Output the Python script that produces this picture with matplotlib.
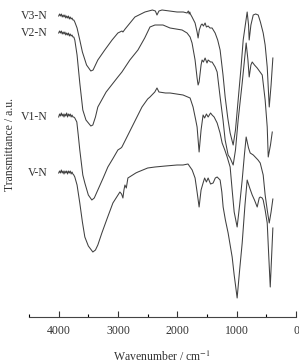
import matplotlib
matplotlib.use("Agg")
import matplotlib.pyplot as plt
from matplotlib.ticker import MultipleLocator

plt.rcParams['font.family'] = ['Liberation Serif', 'DejaVu Serif']
plt.rcParams['mathtext.fontset'] = 'stix'

# ---- data (wavenumber cm-1, transmittance a.u. with vertical offsets) ----
v3_wn = [4000, 3985, 3970, 3955, 3940, 3925, 3910, 3895, 3880, 3865, 3850, 3835, 3820, 3805, 3790,
         3775, 3760, 3745, 3728, 3690, 3644, 3600, 3530, 3458,
         3420, 3340, 3223, 3100, 3002, 2934, 2917, 2880, 2715, 2546, 2420, 2370, 2343, 2310, 2258,
         2005, 1900, 1836, 1815, 1800, 1790, 1780, 1752, 1701, 1667, 1650, 1630, 1600, 1583, 1560, 1532, 1510,
         1481, 1450, 1414, 1363, 1320, 1279, 1230, 1194, 1150, 1110, 1059, 1020, 975, 930, 890,
         823, 800, 789, 760, 721, 680, 637, 600, 553, 520, 485, 451, 420, 390]
v3_t = [301, 303, 301, 303, 300, 302, 300, 302, 299, 301, 299, 301, 298, 300, 298,
        299, 297, 297, 295, 289, 277, 265, 252, 246,
        247, 257, 267, 277, 284, 286, 285, 288, 300, 305, 307, 306, 302, 306, 307,
        305, 305, 304, 306, 303, 305, 303, 300, 294, 285, 279, 287, 292, 293, 291, 294, 290,
        291, 289, 289, 284, 277, 267, 242, 220, 199, 184, 172, 187, 217, 247, 277,
        305, 292, 277, 292, 302, 303, 302, 295, 284, 272, 250, 210, 232, 259]

v2_wn = [4000, 3985, 3970, 3955, 3940, 3925, 3910, 3895, 3880, 3865, 3850, 3835, 3820, 3805, 3790,
         3775, 3760, 3745, 3728, 3690, 3644, 3593, 3540, 3458, 3424,
         3380, 3340, 3200, 3002, 2934, 2800, 2664, 2550, 2461, 2377, 2242, 2123, 1920, 1836, 1785,
         1752, 1701, 1667, 1650, 1633, 1600, 1583, 1560, 1532, 1500, 1481, 1440, 1414, 1363, 1329,
         1279, 1230, 1194, 1144, 1110, 1059, 1020, 975, 907, 860, 840, 810, 789, 760, 738,
         700, 654, 569, 520, 485, 468, 430, 400]
v2_t = [284, 286, 284, 286, 283, 285, 283, 285, 282, 284, 282, 284, 281, 283, 281,
        282, 280, 280, 277, 262, 234, 207, 197, 191, 192,
        200, 210, 225, 240, 245, 257, 267, 279, 290, 292, 292, 289, 287, 284, 280,
        274, 257, 239, 232, 235, 252, 257, 255, 259, 254, 257, 255, 255, 250, 245,
        220, 197, 177, 162, 159, 152, 167, 197, 234, 262, 274, 257, 240, 252, 255,
        252, 249, 242, 217, 190, 160, 172, 185]

v1_wn = [4000, 3985, 3970, 3955, 3940, 3925, 3910, 3895, 3880, 3865, 3850, 3835, 3820, 3805, 3790,
         3775, 3760, 3745, 3728, 3694, 3670, 3644, 3593, 3559, 3500,
         3441, 3400, 3340, 3250, 3171, 3080, 3002, 2950, 2934, 2900, 2765, 2596, 2500, 2461, 2380,
         2343, 2310, 2200, 2123, 1904, 1785, 1735, 1690, 1667, 1633, 1600, 1566, 1540, 1510, 1481,
         1440, 1414, 1380, 1329, 1280, 1245, 1200, 1160, 1110, 1076, 1042, 992, 950, 907, 870,
         840, 800, 772, 720, 688, 640, 603, 553, 520, 485, 451, 420, 390]
v1_t = [200, 203, 201, 204, 201, 203, 200, 203, 201, 204, 200, 203, 201, 203, 200,
        202, 200, 200, 199, 195, 182, 167, 142, 134, 122,
        117, 119, 127, 139, 150, 159, 167, 169, 170, 174, 190, 210, 218, 220, 225,
        229, 225, 224, 224, 222, 219, 210, 197, 190, 165, 187, 202, 199, 203, 200,
        204, 202, 200, 194, 184, 174, 167, 160, 150, 127, 105, 90, 112, 137, 162,
        180, 169, 164, 162, 160, 157, 154, 142, 122, 107, 94, 105, 118]

v_wn = [4000, 3985, 3970, 3955, 3940, 3925, 3910, 3895, 3880, 3865, 3850, 3835, 3820, 3805, 3790,
        3775, 3760, 3745, 3728, 3690, 3644, 3600, 3559, 3500, 3424,
        3380, 3340, 3272, 3180, 3086, 3000, 2968, 2940, 2917, 2900, 2883, 2860, 2833, 2700, 2664,
        2500, 2377, 2200, 2005, 1904, 1820, 1785, 1750, 1701, 1667, 1633, 1600, 1566, 1540, 1510,
        1481, 1440, 1397, 1360, 1329, 1279, 1250, 1228, 1190, 1144, 1110, 1076, 1042, 1020, 992,
        950, 907, 860, 823, 780, 738, 700, 654, 620, 603, 570, 553, 520, 485, 460, 434, 410, 390]
v_t = [144, 146, 144, 147, 144, 146, 143, 146, 144, 146, 143, 146, 144, 146, 143,
       145, 143, 142, 140, 132, 114, 95, 80, 71, 65,
       67, 72, 84, 99, 114, 122, 125, 123, 119, 127, 132, 129, 139, 144, 145,
       149, 150, 151, 152, 152, 153, 150, 147, 139, 125, 110, 127, 134, 139, 135,
       139, 133, 134, 139, 140, 137, 125, 110, 97, 84, 72, 60, 42, 32, 19,
       47, 74, 112, 137, 129, 122, 117, 110, 119, 120, 119, 117, 107, 94, 62, 30, 62, 89]

series = [("V3-N", v3_wn, v3_t), ("V2-N", v2_wn, v2_t), ("V1-N", v1_wn, v1_t), ("V-N", v_wn, v_t)]
xticks = [4000, 3000, 2000, 1000, 0]

fig = plt.figure(figsize=(2.99, 3.64), dpi=100)
ax = fig.add_axes([29/299, 1 - 317/364, (296 - 29)/299, 312/364])

line_color = '#404040'
for name, wn, t in series:
    ax.plot(wn, t, color=line_color, lw=0.75)
    ax.text(wn[0] + 180, t[0], name, ha='right', va='center', fontsize=8.5, color='#333333')

ax.set_xlim(4500, 0)
ax.set_ylim(0, 312)
ax.set_xticks(xticks)
ax.set_xticklabels([str(v) for v in xticks])
ax.xaxis.set_minor_locator(MultipleLocator(500))
ax.tick_params(axis='x', which='major', direction='in', length=4, width=0.8, pad=6,
               labelsize=8.5, colors='#333333')
ax.tick_params(axis='x', which='minor', direction='in', length=2.5, width=0.8)
ax.set_yticks([])
for s in ['top', 'right', 'left']:
    ax.spines[s].set_visible(False)
ax.spines['bottom'].set_color('#444444')
ax.spines['bottom'].set_linewidth(0.8)

fig.text(162/299, 1 - 357/364, 'Wavenumber / cm$^{-1}$', ha='center', va='center',
         fontsize=8.5, color='#333333')
fig.text(10/299, 1 - 145/364, 'Transmittance / a.u.', ha='center', va='center',
         rotation=90, fontsize=8.5, color='#333333')

fig.savefig('out.png', dpi=100)
